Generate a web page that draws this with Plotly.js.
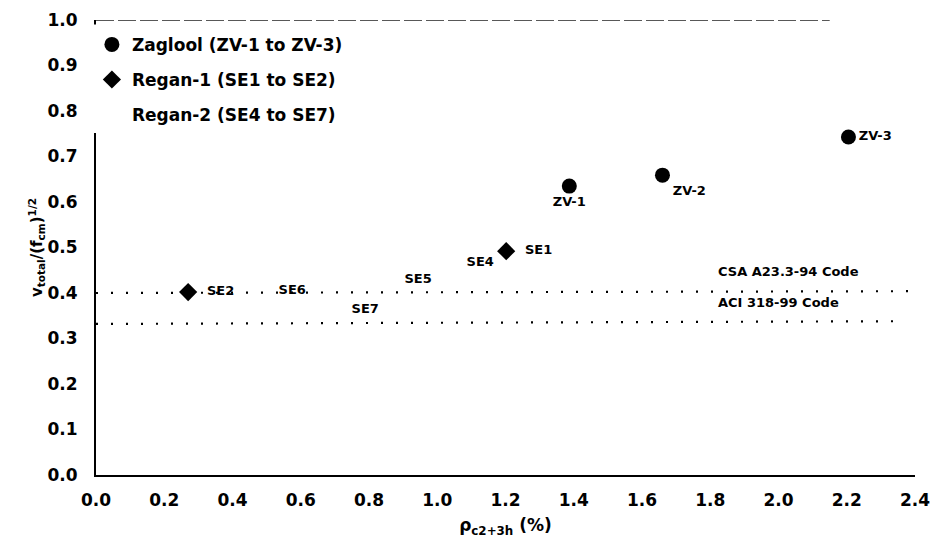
<!DOCTYPE html>
<html>
<head>
<meta charset="utf-8">
<script src="https://cdn.plot.ly/plotly-3.0.1.min.js"></script>
<style>html,body{margin:0;padding:0;background:#fff;}#chart{width:939px;height:548px;}</style>
</head>
<body>
<div id="chart"></div>
<script>
// Zaglool specimens
const zagLabels = ["ZV-1", "ZV-2", "ZV-3"];
const zagX = [1.387, 1.66, 2.205];
const zagY = [0.635, 0.659, 0.743];
// Regan-1 specimens
const regan1Labels = ["SE1", "SE2"];
const regan1X = [1.202, 0.27];
const regan1Y = [0.492, 0.402];
// Regan-2 specimens (markers not visible in the original)
const regan2Labels = ["SE4", "SE5", "SE6", "SE7"];
const regan2X = [1.126, 0.944, 0.575, 0.789];
const regan2Y = [0.466, 0.429, 0.404, 0.363];
// Code limits
const codeNames = ["CSA A23.3-94 Code", "ACI 318-99 Code"];
const codeX = [[0, 2.4], [0, 2.35]];
const codeY = [[0.40, 0.404], [0.332, 0.338]];
const codeLabelX = [2.03, 2.0];
const codeLabelY = [0.448, 0.38];
// Axis ticks
const xTicks = [0, 0.2, 0.4, 0.6, 0.8, 1.0, 1.2, 1.4, 1.6, 1.8, 2.0, 2.2, 2.4];
const yTicks = [0, 0.1, 0.2, 0.3, 0.4, 0.5, 0.6, 0.7, 0.8, 0.9, 1.0];

const F = "DejaVu Sans, Liberation Sans, sans-serif";
const bold = s => "<b>" + s + "</b>";
const lblFont = {family: F, size: 13, color: "#000", weight: "bold"};

const traces = [
  {
    x: zagX, y: zagY, type: "scatter", mode: "markers+text",
    name: "Zaglool (ZV-1 to ZV-3)", legendgroup: "a",
    text: zagLabels.map(bold),
    textposition: ["bottom center", "bottom right", "middle right"],
    textfont: lblFont,
    marker: {symbol: "circle", size: 15, color: "#000"},
    cliponaxis: false
  },
  {
    x: regan1X, y: regan1Y, type: "scatter", mode: "markers+text",
    name: "Regan-1 (SE1 to SE2)", legendgroup: "b",
    text: regan1Labels.map(s => bold("&nbsp;&nbsp;" + s)),
    textposition: "middle right",
    textfont: lblFont,
    marker: {symbol: "diamond", size: 14, color: "#000"},
    cliponaxis: false
  },
  {
    x: regan2X, y: regan2Y, type: "scatter", mode: "markers+text",
    name: "Regan-2 (SE4 to SE7)", legendgroup: "c",
    text: regan2Labels.map(bold),
    textposition: "middle center",
    textfont: lblFont,
    marker: {symbol: "triangle-up", size: 10, color: "rgba(0,0,0,0)"},
    cliponaxis: false
  }
];
codeNames.forEach((n, i) => {
  traces.push({
    x: codeX[i], y: codeY[i], type: "scatter", mode: "lines", name: n,
    showlegend: false, hoverinfo: "skip",
    line: {color: "#000", width: 2.2, dash: "2px,13px"}
  });
});

const annotations = codeNames.map((n, i) => ({
  x: codeLabelX[i], y: codeLabelY[i], xref: "x", yref: "y",
  text: bold(n), showarrow: false,
  font: {family: F, size: 13, color: "#000", weight: "bold"}
}));

const layout = {
  width: 939, height: 548,
  margin: {l: 96, r: 24, t: 20, b: 73},
  paper_bgcolor: "#fff", plot_bgcolor: "#fff",
  showlegend: true,
  legend: {
    x: -0.005, y: 0.985, xanchor: "left", yanchor: "top",
    bgcolor: "#fff", borderwidth: 0,
    font: {family: F, size: 17, color: "#000", weight: "bold"},
    tracegroupgap: 10, itemwidth: 30
  },
  xaxis: {
    range: [0, 2.4], tickvals: xTicks, ticktext: xTicks.map(v => v.toFixed(1)),
    showgrid: false, zeroline: false, showline: true, linecolor: "#000", linewidth: 2,
    ticks: "", ticklabelstandoff: 9,
    tickfont: {family: F, size: 17, color: "#000", weight: "bold"},
    title: {text: bold("ρ<sub>c2+3h</sub> (%)"), font: {family: F, size: 17, color: "#000", weight: "bold"}, standoff: 10}
  },
  yaxis: {
    range: [0, 1.0], tickvals: yTicks, ticktext: yTicks.map(v => v.toFixed(1)),
    showgrid: false, zeroline: false, showline: true, linecolor: "#000", linewidth: 2,
    ticks: "", ticklabelstandoff: 13,
    tickfont: {family: F, size: 17, color: "#000", weight: "bold"},
    title: {text: bold("v<sub>total</sub>/(f<sub>cm</sub>)<sup>1/2</sup>"), font: {family: F, size: 15, color: "#000", weight: "bold"}, standoff: 0}
  },
  shapes: [
    {type: "rect", xref: "paper", yref: "y", x0: -0.01, x1: 0.005, y0: 0.752, y1: 0.99,
     fillcolor: "#fff", line: {width: 0}, layer: "above"},
    {type: "line", xref: "x", yref: "y", x0: 0, x1: 2.15, y0: 1.0, y1: 1.0,
     line: {color: "#222", width: 1.4, dash: "18px,4px"}}
  ],
  annotations: annotations
};

Plotly.newPlot("chart", traces, layout, {displayModeBar: false, staticPlot: true});
</script>
</body>
</html>
